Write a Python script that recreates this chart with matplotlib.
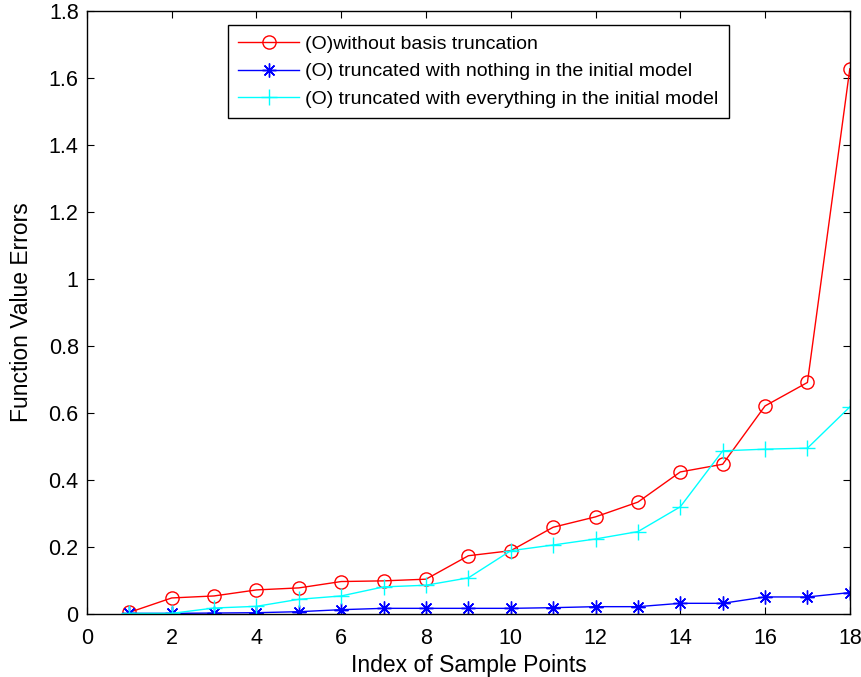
import numpy as np
import matplotlib.pyplot as plt

plt.rcParams['font.family'] = ['Liberation Sans', 'DejaVu Sans']

idx = np.arange(1, 19)

err_full = [0.005, 0.048, 0.054, 0.072, 0.078, 0.097, 0.099, 0.104, 0.174,
            0.189, 0.259, 0.290, 0.334, 0.424, 0.447, 0.621, 0.691, 1.627]
err_nothing = [0.002, 0.002, 0.003, 0.004, 0.007, 0.013, 0.017, 0.017, 0.017,
               0.017, 0.019, 0.022, 0.022, 0.032, 0.032, 0.051, 0.051, 0.064]
err_everything = [0.002, 0.002, 0.018, 0.023, 0.044, 0.054, 0.081, 0.086, 0.108,
                  0.189, 0.206, 0.224, 0.246, 0.320, 0.487, 0.492, 0.495, 0.618]

labels = ['(O)without basis truncation',
          '(O) truncated with nothing in the initial model',
          '(O) truncated with everything in the initial model']

fig = plt.figure(figsize=(8.61, 6.77), dpi=100)
ax = fig.add_axes([0.101, 0.093, 0.886, 0.891])

# asterisk marker like matlab '*'
ast = (8, 2, 0)

ax.plot(idx, err_full, color='#FF0000', lw=1, marker='o', ms=9.5,
        mfc='none', mew=1, label=labels[0])
ax.plot(idx, err_nothing, color='#0000FF', lw=1, marker=ast, ms=10,
        mew=1, label=labels[1])
ax.plot(idx, err_everything, color='#00FFFF', lw=1, marker='+', ms=12,
        mew=1, label=labels[2])

ax.set_xlim(0, 18)
ax.set_ylim(0, 1.8)
ax.set_xticks(np.arange(0, 19, 2))
ax.set_yticks(np.arange(0, 1.81, 0.2))
ax.set_yticklabels(['0', '0.2', '0.4', '0.6', '0.8', '1', '1.2', '1.4', '1.6', '1.8'])
ax.tick_params(direction='in', top=True, right=True, labelsize=15.5, length=5)
ax.tick_params(axis='x', pad=10)
ax.tick_params(axis='y', pad=6)
for s in ax.spines.values():
    s.set_linewidth(1)

ax.set_xlabel('Index of Sample Points', fontsize=16.5, labelpad=4)
ax.set_ylabel('Function Value Errors', fontsize=16.5, labelpad=11)

leg = ax.legend(loc='upper right', bbox_to_anchor=(0.841, 0.977), fontsize=14,
                handlelength=3.1, fancybox=False, framealpha=1,
                edgecolor='black', borderpad=0.55, labelspacing=0.5,
                handletextpad=0.3, borderaxespad=0)
leg.get_frame().set_linewidth(1)

fig.savefig('out.png', dpi=100)
